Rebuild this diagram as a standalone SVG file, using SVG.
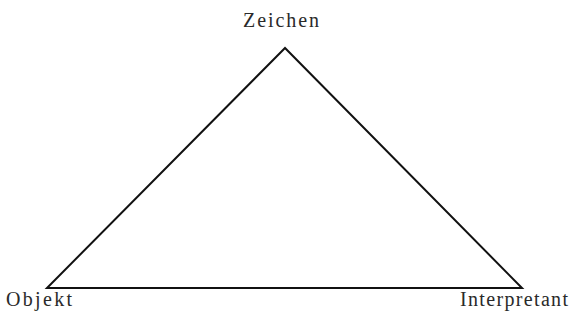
<svg xmlns="http://www.w3.org/2000/svg" width="575" height="321" viewBox="0 0 575 321">
<style>
.lbl{font-family:"Liberation Serif","Times New Roman",serif;font-size:20px;fill:#2a2a2a}
.edge{stroke:#111;stroke-width:2;fill:none;stroke-linejoin:miter}
</style>
<rect width="575" height="321" fill="#fff"/>
<g id="connectors">
<polygon class="edge" points="285,48 47,288 522,288"/>
</g>
<g id="zeichen"><text class="lbl" x="243" y="27" textLength="76" lengthAdjust="spacing">Zeichen</text></g>
<g id="objekt"><text class="lbl" x="6" y="306" textLength="66" lengthAdjust="spacing">Objekt</text></g>
<g id="interpretant"><text class="lbl" x="460" y="306" textLength="108" lengthAdjust="spacing">Interpretant</text></g>
</svg>
